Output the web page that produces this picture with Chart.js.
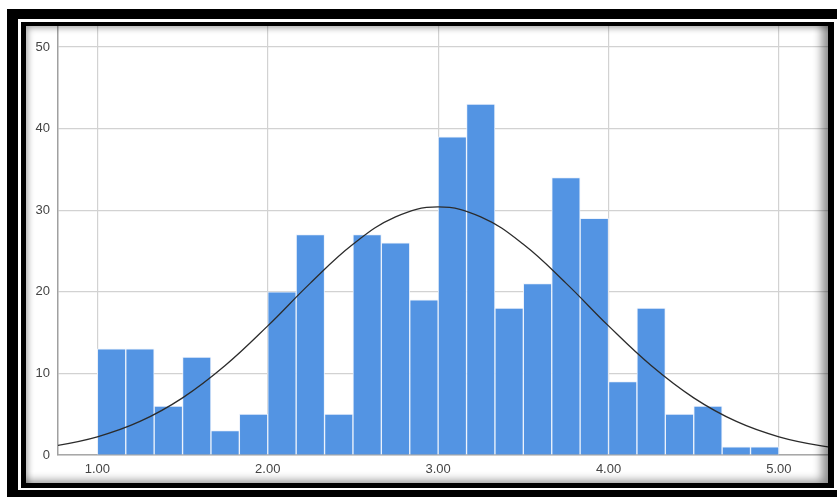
<!DOCTYPE html>
<html lang="en">
  <head>
    <meta charset="utf-8">
    <title>Histogram</title>
    <style>
      body {
        margin: 0;
        width: 837px;
        height: 497px;
        overflow: hidden;
        background: #fff;
        position: relative;
      }
      #outer {
        position: absolute;
        left: 7px;
        top: 9px;
        width: 860px;
        height: 498px;
        box-sizing: border-box;
        border-style: solid;
        border-color: #000;
        border-width: 10px 10px 17px 11px;
      }
      #inner {
        position: absolute;
        left: 21px;
        top: 22px;
        width: 813px;
        height: 466px;
        box-sizing: border-box;
        border-style: solid;
        border-color: #000;
        border-width: 4px 6px 5px 5px;
      }
      #myChart, #shade {
        position: absolute;
        left: 26px;
        top: 26px;
        width: 802px;
        height: 457px;
      }
      #shade {
        pointer-events: none;
        box-shadow: inset -10px -6px 10px -4px rgba(0,0,0,0.45), inset 5px 5px 6px -3px rgba(0,0,0,0.35);
      }
    </style>
  </head>
  <body>
    <div id="outer"></div>
    <div id="inner"></div>
    <canvas id="myChart" width="802" height="457"></canvas>
    <div id="shade"></div>

    <script src="https://cdn.jsdelivr.net/npm/chart.js@4.4.0/dist/chart.umd.min.js"></script>
    <script>
      // histogram bins: 24 bins of width 1/6 from 1.00 to 5.00
      let binStart = 1.0;
      let binWidth = 1 / 6;
      let counts = [13, 13, 6, 12, 3, 5, 20, 27, 5, 27, 26, 19, 39, 43, 18, 21, 34, 29, 9, 18, 5, 6, 1, 1];

      // normal curve
      let curveX = [0.5, 0.75, 1.0, 1.25, 1.5, 1.75, 2.0, 2.25, 2.5, 2.75, 3.0, 3.25, 3.5, 3.75, 4.0, 4.25, 4.5, 4.75, 5.0, 5.25, 5.5];
      let curveY = [0.51, 1.12, 2.23, 4.11, 7.0, 10.96, 15.82, 21.06, 25.82, 29.18, 30.4, 29.18, 25.82, 21.06, 15.82, 10.96, 7.0, 4.11, 2.23, 1.12, 0.51];

      let xTicks = [1, 2, 3, 4, 5];
      let yTicks = [0, 10, 20, 30, 40, 50];

      let bars = counts.map(function (c, i) {
        return { x: binStart + binWidth * (i + 0.5), y: c };
      });
      let curve = curveX.map(function (x, i) {
        return { x: x, y: curveY[i] };
      });

      let tickFont = { family: "'Liberation Sans', Arial, sans-serif", size: 13 };

      let ctx = document.getElementById("myChart").getContext('2d');
      let chart = new Chart(ctx, {
        data: {
          datasets: [
            {
              type: 'line',
              data: curve,
              borderColor: '#2b2b2b',
              borderWidth: 1.3,
              pointRadius: 0,
              tension: 0.4,
              fill: false,
              order: 0
            },
            {
              type: 'bar',
              data: bars,
              backgroundColor: '#5394e3',
              borderColor: 'rgba(235,242,252,0.9)',
              borderWidth: 1,
              barPercentage: 1,
              categoryPercentage: 1,
              order: 1
            }
          ]
        },
        options: {
          responsive: false,
          animation: false,
          layout: { padding: 0 },
          plugins: {
            legend: { display: false },
            tooltip: { enabled: false }
          },
          scales: {
            x: {
              type: 'linear',
              min: 0.769,
              max: 5.288,
              offset: false,
              afterBuildTicks: function (scale) {
                scale.ticks = xTicks.map(function (v) { return { value: v }; });
              },
              afterFit: function (scale) {
                scale.height = 28;
                scale.paddingLeft = 0;
                scale.paddingRight = 0;
              },
              grid: { color: '#d2d2d2', lineWidth: 1.2, drawTicks: false, offset: false },
              border: { color: '#a8a8a8', width: 1.5 },
              ticks: {
                padding: 7,
                color: '#444',
                font: tickFont,
                maxRotation: 0,
                callback: function (v) { return v.toFixed(2); }
              }
            },
            y: {
              min: 0,
              max: 52.57,
              afterBuildTicks: function (scale) {
                scale.ticks = yTicks.map(function (v) { return { value: v }; });
              },
              afterFit: function (scale) {
                scale.width = 32;
                scale.paddingTop = 0;
                scale.paddingBottom = 0;
              },
              grid: { color: '#d2d2d2', lineWidth: 1.2, drawTicks: false },
              border: { color: '#a0a0a0', width: 1.5 },
              ticks: {
                padding: 8,
                color: '#444',
                font: tickFont
              }
            }
          }
        }
      });
    </script>
  </body>
</html>
